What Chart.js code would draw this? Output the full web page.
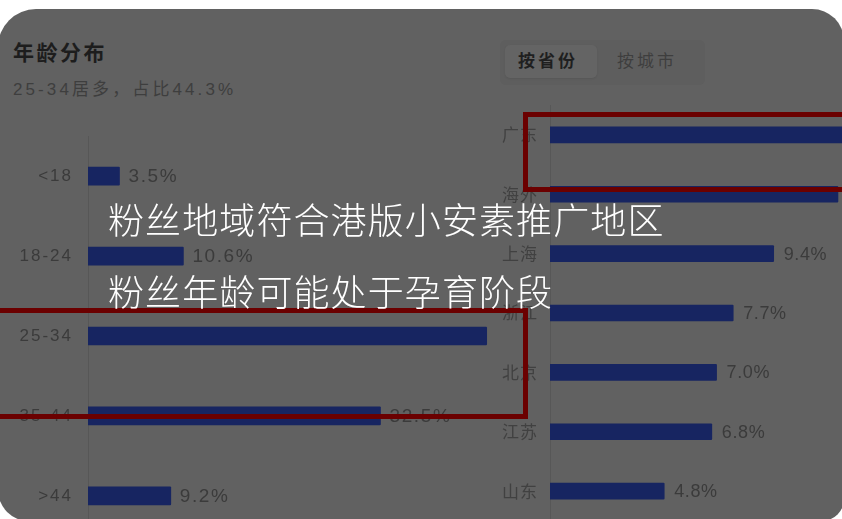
<!DOCTYPE html>
<html><head><meta charset="utf-8">
<script src="https://cdn.jsdelivr.net/npm/chart.js@4"></script>
<style>
html,body{margin:0;padding:0;width:842px;height:519px;overflow:hidden;background:#fff;}
#panel{position:absolute;left:-2px;top:9px;width:846px;height:512px;background:#616161;border-radius:38px 32px 22px 31px;overflow:hidden;}
#inner{position:absolute;left:2px;top:-9px;width:842px;height:600px;}
.t{position:absolute;white-space:nowrap;font-family:"Noto Sans CJK SC","Liberation Sans",sans-serif;line-height:1;}
#title{left:13px;top:41px;font-size:21px;font-weight:bold;color:#1d1d1d;letter-spacing:2.5px;}
#sub{left:13px;top:81px;font-size:17px;color:#3e3e3e;letter-spacing:3.1px;font-family:"Liberation Sans","Noto Sans CJK SC",sans-serif;}
#tabs{position:absolute;left:500px;top:40px;width:205px;height:45px;background:#5e5e5e;border-radius:6px;}
#tabSel{position:absolute;left:505px;top:45px;width:92px;height:33px;background:#646464;border-radius:5px;box-shadow:0 1px 2px rgba(0,0,0,0.08);}
.tab{position:absolute;top:51px;font-size:17px;letter-spacing:3px;}
#tab1{left:518px;font-weight:bold;color:#1f1f1f;}
#tab2{left:617px;color:#3e3e3e;}
canvas{position:absolute;}
#c1{left:0;top:136px;}
#c2{left:480px;top:105px;}
.rect{position:absolute;box-sizing:border-box;border:5px solid #6b0000;}
#r1{left:523px;top:112px;width:340px;height:80px;}
#r2{left:-10px;top:308px;width:538px;height:111px;}
.ov{position:absolute;left:108px;white-space:nowrap;font-family:"Noto Sans CJK SC",sans-serif;font-weight:300;font-size:36px;line-height:36px;letter-spacing:1.1px;color:#ffffff;}
#ov1{top:200px;}
#ov2{top:272px;}
</style>
</head><body>
<div id="panel"><div id="inner">
  <div class="t" id="title">年龄分布</div>
  <div class="t" id="sub">25-34居多，占比44.3%</div>
  <div id="tabs"></div>
  <div id="tabSel"></div>
  <div class="t tab" id="tab1">按省份</div>
  <div class="t tab" id="tab2">按城市</div>
  <canvas id="c1" width="600" height="400"></canvas>
  <canvas id="c2" width="362" height="416"></canvas>
</div></div>
<div class="rect" id="r1"></div>
<div class="rect" id="r2"></div>
<div class="ov" id="ov1">粉丝地域符合港版小安素推广地区</div>
<div class="ov" id="ov2">粉丝年龄可能处于孕育阶段</div>
<script>
const ageLabels = ['<18', '18-24', '25-34', '35-44', '>44'];
const ageValues = [3.5, 10.6, 44.3, 32.5, 9.2];
const provinceLabels = ['广东', '海外', '上海', '浙江', '北京', '江苏', '山东'];
const provinceValues = [15.0, 12.1, 9.4, 7.7, 7.0, 6.8, 4.8];

const BAR = '#172561';
const TXT = '#3b3b3b';

function spacingPlugin(ls) {
  return {
    id: 'spacing',
    beforeUpdate(c) { c.ctx.letterSpacing = ls; },
    beforeDraw(c) { c.ctx.letterSpacing = ls; }
  };
}
function valuePlugin(font, ls, gap, hideMax) {
  return {
    id: 'values',
    afterDatasetsDraw(chart) {
      const ctx = chart.ctx;
      const meta = chart.getDatasetMeta(0);
      const data = chart.data.datasets[0].data;
      const mx = Math.max(...data);
      ctx.save();
      ctx.font = font;
      ctx.letterSpacing = ls;
      ctx.fillStyle = TXT;
      ctx.textAlign = 'left';
      ctx.textBaseline = 'middle';
      meta.data.forEach((bar, i) => {
        if (hideMax && data[i] === mx) return;
        ctx.fillText(data[i].toFixed(1) + '%', bar.x + gap, bar.y + 1);
      });
      ctx.restore();
    }
  };
}
function makeChart(id, labels, values, opts) {
  const el = document.getElementById(id);
  const chart = new Chart(el, {
    type: 'bar',
    data: {
      labels: labels,
      datasets: [{ data: values, backgroundColor: BAR, barThickness: opts.thickness, borderRadius: 1 }]
    },
    options: {
      indexAxis: 'y',
      responsive: false,
      maintainAspectRatio: false,
      animation: false,
      devicePixelRatio: 1,
      layout: { padding: { left: 0, top: 0, bottom: 0, right: opts.padRight } },
      plugins: { legend: { display: false }, tooltip: { enabled: false } },
      scales: {
        x: { display: false, min: 0, max: opts.max },
        y: {
          grid: { display: false, drawTicks: false },
          border: { display: true, color: '#575757', width: 1 },
          ticks: { color: opts.tickColor, font: opts.tickFont, padding: opts.pad },
          afterFit(s) { s.width = opts.axisW; }
        }
      }
    },
    plugins: [spacingPlugin(opts.tickLs), valuePlugin(opts.valFont, opts.valLs, opts.gap, opts.hideMax)]
  });
  // make the plot area occupy the wanted band of the page
  const a = chart.chartArea;
  const padTop = a.top, padBottom = chart.height - a.bottom;
  const newH = Math.round(opts.areaH + padTop + padBottom);
  el.style.top = Math.round(opts.areaTop - padTop) + 'px';
  chart.resize(chart.width, newH);
  return chart;
}
makeChart('c1', ageLabels, ageValues, {
  thickness: 18, max: 48, axisW: 88, pad: 15, padRight: 80, tickColor: TXT,
  tickFont: { family: 'Liberation Sans', size: 17 }, tickLs: '2px',
  valFont: '19px "Liberation Sans"', valLs: '1.6px', gap: 9, hideMax: true,
  areaTop: 136, areaH: 400
});
makeChart('c2', provinceLabels, provinceValues, {
  thickness: 16, max: 12.27, axisW: 70, pad: 12, padRight: 0, tickColor: '#414141',
  tickFont: { family: 'Noto Sans CJK SC', size: 17 }, tickLs: '1px',
  valFont: '18px "Liberation Sans"', valLs: '0.6px', gap: 10, hideMax: false,
  areaTop: 105, areaH: 416
});
</script>
</body></html>
